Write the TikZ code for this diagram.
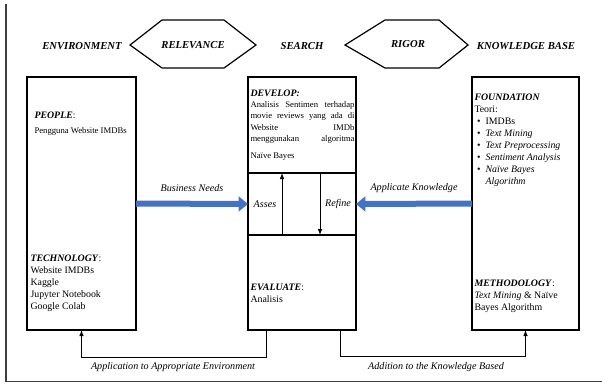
\documentclass[tikz,border=0pt]{standalone}
\usepackage{fontspec}
\setmainfont{Liberation Serif}
\usetikzlibrary{arrows.meta}

\definecolor{bluearr}{RGB}{68,114,196}
\tikzset{every picture/.style={line width=0.75pt}}
\tikzset{
	box/.style={draw, line width=1.1pt, rectangle, inner sep=0pt, outer sep=0pt},
	hexa/.style={draw, line width=0.9pt},
	head/.style={font=\fontsize{8}{9}\selectfont\bfseries\itshape, inner sep=0pt},
	txt/.style={font=\fontsize{7.4}{9}\selectfont, align=left, anchor=north west, inner sep=0pt},
	small/.style={font=\fontsize{6.5}{8.6}\selectfont},
	lbl/.style={font=\fontsize{7.6}{9}\selectfont\itshape, inner sep=0pt},
	bigarrow/.style={draw=bluearr, line width=4.5pt, -{Triangle[length=7pt,width=11pt]}},
	conn/.style={line width=0.75pt, -{Latex[length=4.5pt,width=3.5pt]}}}
\newcommand{\jline}[1]{\makebox[78pt][s]{#1}}
\newcommand{\bitem}[1]{\hspace*{2pt}\makebox[6.3pt][l]{\textbullet}#1}

\begin{document}
\begin{tikzpicture}[x=0.75pt,y=0.75pt,yscale=-1,xscale=1]
	\useasboundingbox (0,0) rectangle (602,383);

	%Shape: Frame
	\draw[line width=1.1pt, draw=black!75] (6,4) -- (6,381.5) -- (602,381.5);

	%Shape: Hexagon RELEVANCE
	\draw[hexa] (130,45) -- (162,20) -- (224,20) -- (256,45) -- (224,68) -- (162,68) -- cycle;
	%Shape: Hexagon RIGOR
	\draw[hexa] (345,45) -- (385,20) -- (439,20) -- (468,45) -- (439,68) -- (385,68) -- cycle;

	% Text Node
	\node[head] (envlbl) at (82,46) {ENVIRONMENT};
	\node[head] (rellbl) at (193,45) {RELEVANCE};
	\node[head] (srchlbl) at (302,46) {SEARCH};
	\node[head] (riglbl) at (408,44) {RIGOR};
	\node[head] (kblbl) at (526,46) {KNOWLEDGE BASE};

	%Shape: Rectangle
	\node[box, minimum width=109*0.75pt, minimum height=253*0.75pt] (env) at (81.5,203.5) {};
	\node[box, minimum width=108*0.75pt, minimum height=96*0.75pt] (dev) at (302,125) {};
	\node[box, minimum width=108*0.75pt, minimum height=62*0.75pt] (mid) at (302,204) {};
	\node[box, minimum width=108*0.75pt, minimum height=95*0.75pt] (eval) at (302,282.5) {};
	\node[box, minimum width=107*0.75pt, minimum height=253*0.75pt] (know) at (525.5,203.5) {};

	% Text Node
	\node[txt, small] (people) at (34,111) {\fontsize{7.4}{9}\selectfont\textbf{\textit{PEOPLE}}:\\[3pt]Pengguna Website IMDBs};
	\node[txt] (tech) at (30,254) {\textbf{\textit{TECHNOLOGY}}:\\Website IMDBs\\Kaggle\\Jupyter Notebook\\Google Colab};
	\node[txt, small] (devtxt) at (250,89) {\fontsize{7.4}{8.6}\selectfont\textbf{\textit{DEVELOP:}}\\
		\jline{Analisis Sentimen terhadap}\\
		\jline{movie reviews yang ada di}\\
		\jline{Website IMDb}\\
		\jline{menggunakan algoritma}\\[3.5pt]
		Naïve Bayes};
	\node[txt] (evaltxt) at (250,283) {\textbf{\textit{EVALUATE}}:\\Analisis};
	\node[txt] (found) at (474,93) {\textbf{\textit{FOUNDATION}}\\Teori:\\
		\bitem{IMDBs}\\
		\bitem{\textit{Text Mining}}\\
		\bitem{\textit{Text Preprocessing}}\\
		\bitem{\textit{Sentiment Analysis}}\\
		\bitem{\textit{Naïve Bayes}}\\
		\hspace*{8.3pt}\textit{Algorithm}};
	\node[txt] (meth) at (474,279) {\textbf{\textit{METHODOLOGY}}:\\\textit{Text Mining} \& Naïve\\Bayes Algorithm};

	% Text Node
	\node[lbl] (asses) at (265,204) {Asses};
	\node[lbl] (refine) at (338,204) {Refine};

	%Straight Lines
	\draw[bigarrow] (env.east) -- (mid.west);
	\draw[bigarrow] (know.west) -- (mid.east);
	\node[lbl] (bneed) at (192,188) {Business Needs};
	\node[lbl] (aknow) at (414,188) {Applicate Knowledge};

	\draw[conn] ([xshift=-15pt]mid.south) -- ([xshift=-15pt]mid.north);
	\draw[conn] ([xshift=13.5pt]mid.north) -- ([xshift=13.5pt]mid.south);

	\coordinate (turnL) at (266,357);
	\coordinate (turnR) at (340,356);
	\draw[conn] (eval.south -| turnL) -- (turnL) -| (env.south);
	\draw[conn] (eval.south -| turnR) -- (turnR) -| (know.south);
	\node[lbl] (appenv) at (173,367) {Application to Appropriate Environment};
	\node[lbl] (addkb) at (436,367) {Addition to the Knowledge Based};

\end{tikzpicture}
\end{document}
